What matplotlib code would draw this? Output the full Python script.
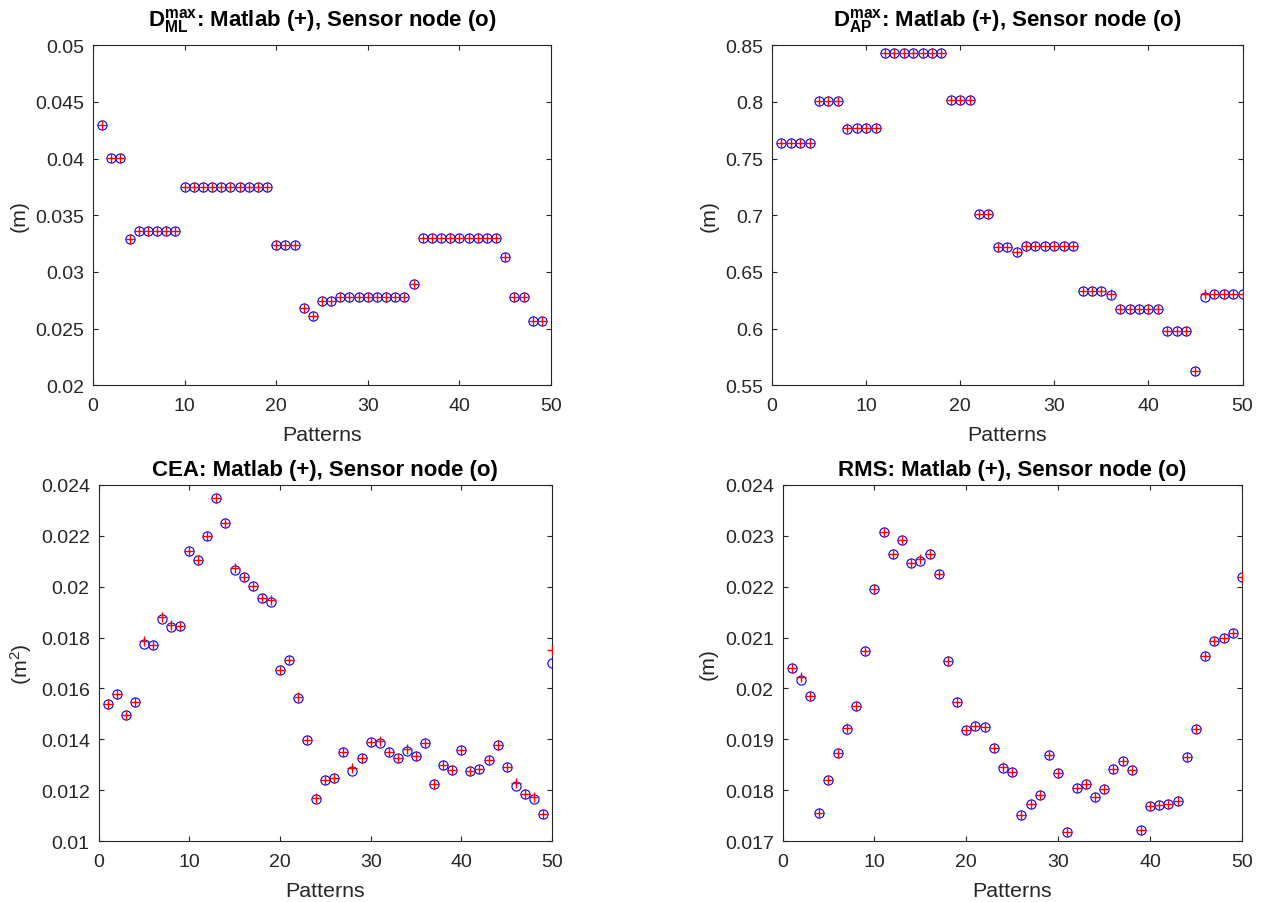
import numpy as np
import matplotlib
matplotlib.use('Agg')
import matplotlib.pyplot as plt
from matplotlib.ticker import FuncFormatter, MultipleLocator

plt.rcParams['font.family'] = ['Liberation Sans', 'DejaVu Sans']
plt.rcParams['mathtext.fontset'] = 'custom'
plt.rcParams['mathtext.rm'] = 'Liberation Sans'
plt.rcParams['mathtext.bf'] = 'Liberation Sans:bold'
plt.rcParams['mathtext.it'] = 'Liberation Sans:italic'

# ---------------- data ----------------
patterns_ml = list(range(1, 50))
ml_matlab = [0.0430, 0.0401, 0.0401, 0.0329,
             0.03365, 0.03365, 0.03365, 0.03365, 0.03365,
             0.0375, 0.0375, 0.0375, 0.0375, 0.0375, 0.0375, 0.0375, 0.0375, 0.0375, 0.0375,
             0.0324, 0.0324, 0.0324, 0.0268, 0.0261, 0.0274, 0.02745,
             0.0278, 0.0278, 0.0278, 0.0278, 0.0278, 0.0278, 0.0278, 0.0278,
             0.0289,
             0.0330, 0.0330, 0.0330, 0.0330, 0.0330, 0.0330, 0.0330, 0.0330, 0.0330,
             0.0313, 0.0278, 0.0278, 0.0257, 0.0257]
ml_sensor = [0.0430, 0.0401, 0.0401, 0.0329,
             0.03365, 0.03365, 0.03365, 0.03365, 0.03365,
             0.0375, 0.0375, 0.0375, 0.0375, 0.0375, 0.0375, 0.0375, 0.0375, 0.0375, 0.0375,
             0.0324, 0.0324, 0.0324, 0.0268, 0.0261, 0.0274, 0.02745,
             0.0278, 0.0278, 0.0278, 0.0278, 0.0278, 0.0278, 0.0278, 0.0278,
             0.0289,
             0.0330, 0.0330, 0.0330, 0.0330, 0.0330, 0.0330, 0.0330, 0.0330, 0.0330,
             0.0313, 0.0278, 0.0278, 0.0257, 0.0257]

patterns = list(range(1, 51))
ap_matlab = [0.764, 0.764, 0.764, 0.764, 0.801, 0.801, 0.801,
             0.777, 0.777, 0.777, 0.777,
             0.843, 0.843, 0.843, 0.843, 0.843, 0.843, 0.843,
             0.8015, 0.8015, 0.8015, 0.701, 0.701, 0.672, 0.672, 0.668,
             0.673, 0.673, 0.673, 0.673, 0.673, 0.673,
             0.633, 0.633, 0.633, 0.6305,
             0.617, 0.617, 0.617, 0.617, 0.617,
             0.598, 0.598, 0.598, 0.563, 0.6306,
             0.631, 0.631, 0.631, 0.631]
ap_sensor = [0.764, 0.764, 0.764, 0.764, 0.801, 0.801, 0.801,
             0.776, 0.777, 0.777, 0.777,
             0.843, 0.843, 0.843, 0.843, 0.843, 0.843, 0.843,
             0.8015, 0.8015, 0.8015, 0.701, 0.701, 0.672, 0.672, 0.6675,
             0.673, 0.673, 0.673, 0.673, 0.673, 0.673,
             0.633, 0.633, 0.633, 0.6295,
             0.617, 0.617, 0.617, 0.617, 0.617,
             0.598, 0.598, 0.598, 0.563, 0.6282,
             0.631, 0.631, 0.631, 0.631]

cea_matlab = [0.01538, 0.0158, 0.01497, 0.01545, 0.01785, 0.0177, 0.0188, 0.01848, 0.01847, 0.0214,
              0.02103, 0.02197, 0.02346, 0.02248, 0.02072, 0.02039, 0.02001, 0.01957, 0.01946, 0.01672,
              0.01711, 0.01565, 0.01399, 0.0117, 0.01242, 0.0125, 0.01352, 0.01286, 0.01327, 0.01391,
              0.01395, 0.01352, 0.01327, 0.01362, 0.01335, 0.01387, 0.01225, 0.01298, 0.01281, 0.01357,
              0.01277, 0.01282, 0.01319, 0.01379, 0.01293, 0.01229, 0.01186, 0.01174, 0.01106, 0.01752]
cea_sensor = [0.01538, 0.0158, 0.01497, 0.01545, 0.01775, 0.0177, 0.01872, 0.01841, 0.01847, 0.0214,
              0.02103, 0.02197, 0.02346, 0.02248, 0.02064, 0.02039, 0.02001, 0.01957, 0.01941, 0.01672,
              0.01711, 0.01561, 0.01399, 0.01167, 0.01242, 0.0125, 0.01352, 0.01276, 0.01327, 0.01391,
              0.01386, 0.01352, 0.01327, 0.01354, 0.01335, 0.01387, 0.01225, 0.01298, 0.01281, 0.01357,
              0.01277, 0.01282, 0.01319, 0.01379, 0.01293, 0.01218, 0.01186, 0.01167, 0.01106, 0.01699]

rms_matlab = [0.02041, 0.02023, 0.01986, 0.01756, 0.0182, 0.01874, 0.01923, 0.01966, 0.02073, 0.02195,
              0.02308, 0.02263, 0.02292, 0.02246, 0.02255, 0.02264, 0.02224, 0.02054, 0.01973, 0.01918,
              0.01926, 0.01925, 0.01884, 0.01846, 0.01837, 0.01752, 0.01773, 0.0179, 0.0187, 0.01835,
              0.01718, 0.01805, 0.01812, 0.01787, 0.01802, 0.01842, 0.01858, 0.01839, 0.01722, 0.0177,
              0.01771, 0.01773, 0.0178, 0.01866, 0.01921, 0.02063, 0.02094, 0.021, 0.02109, 0.02219]
rms_sensor = [0.02041, 0.02017, 0.01986, 0.01756, 0.0182, 0.01874, 0.01921, 0.01966, 0.02073, 0.02195,
              0.02308, 0.02263, 0.02292, 0.02246, 0.02251, 0.02264, 0.02224, 0.02053, 0.01973, 0.01918,
              0.01926, 0.01925, 0.01884, 0.01843, 0.01837, 0.01752, 0.01773, 0.0179, 0.0187, 0.01835,
              0.01718, 0.01805, 0.01812, 0.01787, 0.01802, 0.01842, 0.01858, 0.01839, 0.01722, 0.0177,
              0.01771, 0.01773, 0.0178, 0.01866, 0.01921, 0.02063, 0.02094, 0.021, 0.02109, 0.02219]

titles = [r'$\mathbf{D}_{\mathbf{ML}}^{\mathbf{max}}$: Matlab (+), Sensor node (o)',
          r'$\mathbf{D}_{\mathbf{AP}}^{\mathbf{max}}$: Matlab (+), Sensor node (o)',
          'CEA: Matlab (+), Sensor node (o)',
          'RMS: Matlab (+), Sensor node (o)']
ylabels = ['(m)', '(m)', r'(m$^2$)', '(m)']
xlabel = 'Patterns'

# ---------------- figure ----------------
W, H = 1265, 903
fig = plt.figure(figsize=(W / 100, H / 100), dpi=100)
fig.patch.set_facecolor('white')

def px_axes(l, r, t, b):
    return fig.add_axes([l / W, 1 - b / H, (r - l) / W, (b - t) / H])

axes = [px_axes(93, 551, 46.3, 386.3),
        px_axes(772, 1242.5, 46.3, 386.3),
        px_axes(98.5, 552, 485.7, 842.3),
        px_axes(782.5, 1242, 485.7, 842.3)]

series = [(patterns_ml, ml_matlab, ml_sensor, (0.02, 0.05), 0.005),
          (patterns, ap_matlab, ap_sensor, (0.55, 0.85), 0.05),
          (patterns, cea_matlab, cea_sensor, (0.01, 0.024), 0.002),
          (patterns, rms_matlab, rms_sensor, (0.017, 0.024), 0.001)]

gray = '#262626'
fmt = FuncFormatter(lambda v, p: f'{v:g}')
for i, (ax, (x, m, s, ylim, step)) in enumerate(zip(axes, series)):
    ax.plot(x, s, linestyle='none', marker='o', ms=6.6, mfc='none', mec='b', mew=0.8, zorder=3)
    ax.plot(x, m, linestyle='none', marker='+', ms=7.5, color='r', mew=1.0, zorder=4)
    ax.set_xlim(0, 50)
    ax.set_ylim(*ylim)
    ax.xaxis.set_major_locator(MultipleLocator(10))
    ax.yaxis.set_major_locator(MultipleLocator(step))
    ax.yaxis.set_major_formatter(fmt)
    ax.tick_params(direction='in', top=True, right=True, length=3.6, width=0.8,
                   color=gray, labelcolor=gray, labelsize=14)
    ax.tick_params(axis='x', pad=8.3)
    ax.tick_params(axis='y', pad=6.3)
    for sp in ax.spines.values():
        sp.set_color(gray)
        sp.set_linewidth(0.8)
    ax.set_xlabel(xlabel, fontsize=15.4, color=gray, labelpad=8)
    ax.set_ylabel(ylabels[i], fontsize=15.4, color=gray, labelpad=5)
    ax.set_title(titles[i], fontsize=16, fontweight='bold', color='black',
                 pad=14 if i < 2 else 7)

fig.savefig('out.png', dpi=100, facecolor='white')
